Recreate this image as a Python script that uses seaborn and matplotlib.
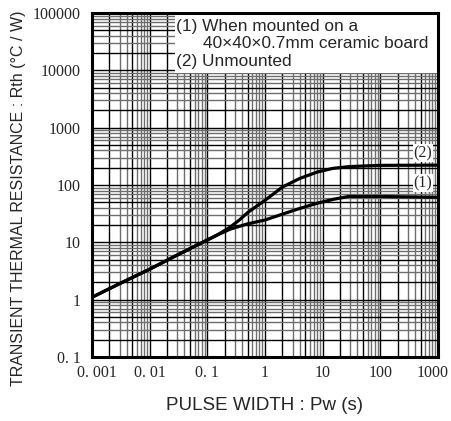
import matplotlib
matplotlib.use("Agg")
import matplotlib.pyplot as plt
import matplotlib.transforms as mtransforms
import seaborn as sns
import pandas as pd
import numpy as np
from matplotlib.patches import Rectangle

# ---- data ----
pw_1 = [0.001, 0.003, 0.01, 0.03, 0.1, 0.15, 0.25, 0.5, 1, 2, 4, 8, 15, 28, 100, 1000]
rth_1 = [1.1, 1.9, 3.4, 6.0, 11, 13.5, 17, 21, 24.5, 31, 39, 48, 56, 63, 63, 61]
pw_2 = [0.001, 0.003, 0.01, 0.03, 0.1, 0.15, 0.25, 0.35, 0.5, 0.7, 1, 2, 4, 8, 15, 30, 100, 1000]
rth_2 = [1.1, 1.9, 3.4, 6.0, 11, 13.5, 18.5, 24, 33, 42, 54, 92, 130, 168, 195, 210, 220, 222]

x_ticks = [0.001, 0.01, 0.1, 1, 10, 100, 1000]
x_ticklabels = ["0. 001", "0. 01", "0. 1", "1", "10", "100", "1000"]
y_ticks = [0.1, 1, 10, 100, 1000, 10000, 100000]
y_ticklabels = ["0. 1", "1", "10", "100", "1000", "10000", "100000"]

legend_lines = ["(1) When mounted on a", "40\u00d740\u00d70.7mm ceramic board", "(2) Unmounted"]
curve_labels = ["(1)", "(2)"]
x_label = "PULSE WIDTH : Pw (s)"
y_label = "TRANSIENT THERMAL RESISTANCE : Rth (\u00b0C / W)"

df = pd.concat([
    pd.DataFrame({"pw": pw_1, "rth": rth_1, "curve": "(1)"}),
    pd.DataFrame({"pw": pw_2, "rth": rth_2, "curve": "(2)"}),
])

sns.set_theme(style="white")
plt.rcParams["font.family"] = ["Liberation Sans", "DejaVu Sans"]

fig = plt.figure(figsize=(4.52, 4.21), dpi=100)
ax = fig.add_axes([92 / 452, 64 / 421, 346 / 452, 344 / 421])
ax.set_xscale("log")
ax.set_yscale("log")
ax.set_xlim(0.001, 1000)
ax.set_ylim(0.1, 100000)

# grid
for dec in range(-3, 3):
    for m in range(1, 10):
        v = m * 10.0 ** dec
        if v <= 0.001:
            continue
        col = "black" if m in (1, 2, 5) else "#6e6e6e"
        ax.axvline(v, color=col, lw=1.0, zorder=1)
for dec in range(-1, 5):
    for m in range(1, 10):
        v = m * 10.0 ** dec
        if v <= 0.1:
            continue
        col = "black" if m in (1, 2, 5) else "#6e6e6e"
        ax.axhline(v, color=col, lw=1.0, zorder=1)

# legend box
ax.add_patch(Rectangle((0.24, 0.825), 0.76, 0.175, transform=ax.transAxes,
                       facecolor="white", edgecolor="none", zorder=3))
ax.text(0.243, 0.962, legend_lines[0], transform=ax.transAxes, fontsize=12.4,
        va="center", ha="left", zorder=4)
ax.text(0.32, 0.912, legend_lines[1], transform=ax.transAxes, fontsize=12.4,
        va="center", ha="left", zorder=4)
ax.text(0.243, 0.86, legend_lines[2], transform=ax.transAxes, fontsize=12.4,
        va="center", ha="left", zorder=4)

sns.lineplot(data=df, x="pw", y="rth", units="curve", estimator=None,
             color="black", lw=2.3, ax=ax, zorder=5, legend=False)

ax.text(790, 108, curve_labels[0], fontsize=11.5, family="Liberation Serif",
        ha="right", va="center", zorder=6,
        bbox=dict(facecolor="white", edgecolor="none", pad=0.5))
ax.text(790, 361, curve_labels[1], fontsize=11.5, family="Liberation Serif",
        ha="right", va="center", zorder=6,
        bbox=dict(facecolor="white", edgecolor="none", pad=0.5))

ax.set_xticks(x_ticks)
ax.set_xticklabels(x_ticklabels, family="Liberation Serif", fontsize=11.5)
ax.set_yticks(y_ticks)
ax.set_yticklabels(y_ticklabels, family="Liberation Serif", fontsize=11.5)
ax.minorticks_off()
ax.tick_params(axis="x", length=0, pad=6)
ax.tick_params(axis="y", length=0, pad=8)

xl = ax.get_xticklabels()
xl[0].set_transform(xl[0].get_transform() +
                    mtransforms.ScaledTranslation(5 / 100, 0, fig.dpi_scale_trans))
xl[-1].set_transform(xl[-1].get_transform() +
                     mtransforms.ScaledTranslation(-5 / 100, 0, fig.dpi_scale_trans))

ax.set_xlabel(x_label, fontsize=13.5, labelpad=11)
ax.set_ylabel("")
fig.text(19 / 452, 1 - 198.5 / 421, y_label, rotation=90, fontsize=11.5,
         ha="center", va="center")
for s in ax.spines.values():
    s.set_color("black")
    s.set_linewidth(2.2)
    s.set_zorder(7)

fig.savefig("out.png", dpi=100)
